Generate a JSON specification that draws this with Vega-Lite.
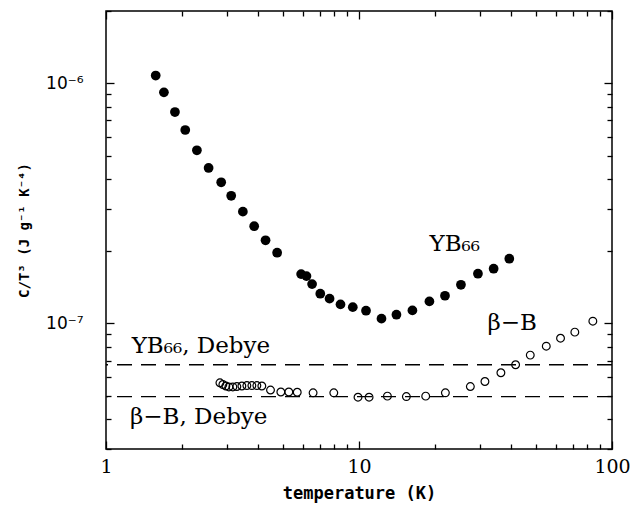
{
  "$schema": "https://vega.github.io/schema/vega-lite/v6.json",
  "width": 506,
  "height": 438,
  "autosize": "none",
  "padding": {"left": 106, "top": 11, "right": 19, "bottom": 61},
  "background": "white",
  "config": {
    "view": {"stroke": "black", "strokeWidth": 1.5},
    "axis": {
      "domain": false,
      "grid": false,
      "tickColor": "black",
      "tickWidth": 1.3,
      "labelColor": "black",
      "titleColor": "black",
      "labelFont": "DejaVu Serif",
      "titleFont": "DejaVu Sans Mono"
    },
    "text": {"font": "DejaVu Serif"}
  },
  "datasets": {
    "yb66": [
      {"T": 1.572, "CT3": 1.077e-6}, {"T": 1.694, "CT3": 9.17e-7}, {"T": 1.873, "CT3": 7.59e-7},
      {"T": 2.057, "CT3": 6.39e-7}, {"T": 2.287, "CT3": 5.26e-7}, {"T": 2.544, "CT3": 4.44e-7},
      {"T": 2.853, "CT3": 3.87e-7}, {"T": 3.125, "CT3": 3.40e-7}, {"T": 3.475, "CT3": 2.92e-7},
      {"T": 3.852, "CT3": 2.54e-7}, {"T": 4.272, "CT3": 2.22e-7}, {"T": 4.747, "CT3": 1.97e-7},
      {"T": 5.905, "CT3": 1.605e-7}, {"T": 6.20, "CT3": 1.574e-7}, {"T": 6.525, "CT3": 1.458e-7},
      {"T": 7.03, "CT3": 1.33e-7}, {"T": 7.65, "CT3": 1.268e-7}, {"T": 8.45, "CT3": 1.20e-7},
      {"T": 9.45, "CT3": 1.169e-7}, {"T": 10.66, "CT3": 1.13e-7}, {"T": 12.27, "CT3": 1.047e-7},
      {"T": 14.06, "CT3": 1.087e-7}, {"T": 16.26, "CT3": 1.133e-7}, {"T": 18.98, "CT3": 1.235e-7},
      {"T": 21.87, "CT3": 1.304e-7}, {"T": 25.29, "CT3": 1.449e-7}, {"T": 29.52, "CT3": 1.611e-7},
      {"T": 34.05, "CT3": 1.69e-7}, {"T": 39.27, "CT3": 1.86e-7}
    ],
    "betaB": [
      {"T": 2.82, "CT3": 5.66e-8}, {"T": 2.897, "CT3": 5.57e-8}, {"T": 2.977, "CT3": 5.49e-8},
      {"T": 3.06, "CT3": 5.44e-8}, {"T": 3.172, "CT3": 5.44e-8}, {"T": 3.29, "CT3": 5.46e-8},
      {"T": 3.444, "CT3": 5.49e-8}, {"T": 3.604, "CT3": 5.51e-8}, {"T": 3.772, "CT3": 5.51e-8},
      {"T": 3.947, "CT3": 5.51e-8}, {"T": 4.13, "CT3": 5.49e-8}, {"T": 4.469, "CT3": 5.28e-8},
      {"T": 4.91, "CT3": 5.18e-8}, {"T": 5.28, "CT3": 5.18e-8}, {"T": 5.70, "CT3": 5.17e-8},
      {"T": 6.585, "CT3": 5.14e-8}, {"T": 7.95, "CT3": 5.14e-8}, {"T": 9.91, "CT3": 4.93e-8},
      {"T": 10.96, "CT3": 4.93e-8}, {"T": 12.95, "CT3": 4.98e-8}, {"T": 15.39, "CT3": 4.96e-8},
      {"T": 18.35, "CT3": 4.98e-8}, {"T": 21.95, "CT3": 5.14e-8}, {"T": 27.55, "CT3": 5.46e-8},
      {"T": 31.46, "CT3": 5.73e-8}, {"T": 36.38, "CT3": 6.23e-8}, {"T": 41.59, "CT3": 6.73e-8},
      {"T": 47.53, "CT3": 7.38e-8}, {"T": 54.98, "CT3": 8.04e-8}, {"T": 62.60, "CT3": 8.68e-8},
      {"T": 71.30, "CT3": 9.20e-8}, {"T": 84.0, "CT3": 1.022e-7}
    ],
    "debye": [
      {"material": "YB66", "CT3": 6.73e-8},
      {"material": "beta-B", "CT3": 4.96e-8}
    ],
    "labels": [
      {"text": "YB₆₆", "T": 19.0, "CT3": 2.0e-7},
      {"text": "β−B", "T": 32.2, "CT3": 9.35e-8},
      {"text": "YB₆₆,  Debye", "T": 1.263, "CT3": 7.5e-8},
      {"text": "β−B,  Debye", "T": 1.244, "CT3": 3.83e-8}
    ]
  },
  "resolve": {"axis": {"x": "independent", "y": "independent"}},
  "layer": [
    {
      "data": {"name": "yb66"},
      "mark": {"type": "point", "filled": true, "color": "black", "size": 95, "opacity": 1},
      "encoding": {
        "x": {
          "field": "T", "type": "quantitative",
          "scale": {"type": "log", "domain": [1, 100], "nice": false},
          "axis": {
            "orient": "bottom",
            "values": [1,2,3,4,5,6,7,8,9,10,20,30,40,50,60,70,80,90,100],
            "tickSize": {"condition": {"test": "datum.value == 1 || datum.value == 10 || datum.value == 100", "value": -8}, "value": -5},
            "labelExpr": "datum.value == 1 ? '1' : datum.value == 10 ? '10' : datum.value == 100 ? '100' : ''",
            "labelFontSize": 19,
            "labelPadding": 16,
            "labelFlush": false,
            "labelOverlap": false,
            "title": "temperature (K)",
            "titleFontSize": 17,
            "titleFontWeight": "bold",
            "titlePadding": 6
          }
        },
        "y": {
          "field": "CT3", "type": "quantitative",
          "scale": {"type": "log", "domain": [3e-8, 2e-6], "nice": false},
          "axis": {
            "orient": "left",
            "values": [3e-8,4e-8,5e-8,6e-8,7e-8,8e-8,9e-8,1e-7,2e-7,3e-7,4e-7,5e-7,6e-7,7e-7,8e-7,9e-7,1e-6,2e-6],
            "tickSize": {"condition": {"test": "datum.value == 1e-7 || datum.value == 1e-6", "value": -8}, "value": -5},
            "labelExpr": "datum.value == 1e-6 ? '10⁻⁶' : datum.value == 1e-7 ? '10⁻⁷' : ''",
            "labelFont": "DejaVu Sans",
            "labelFontSize": 17,
            "labelPadding": 31,
            "labelFlush": false,
            "labelOverlap": false,
            "title": "C/T³ (J g⁻¹ K⁻⁴)",
            "titleFontSize": 14,
            "titleFontWeight": "bold",
            "titlePadding": 14
          }
        }
      }
    },
    {
      "data": {"name": "betaB"},
      "mark": {"type": "point", "filled": false, "color": "black", "size": 60, "strokeWidth": 1.2, "opacity": 1},
      "encoding": {
        "x": {
          "field": "T", "type": "quantitative",
          "scale": {"type": "log", "domain": [1, 100], "nice": false},
          "axis": {
            "orient": "top",
            "values": [1,2,3,4,5,6,7,8,9,10,20,30,40,50,60,70,80,90,100],
            "tickSize": {"condition": {"test": "datum.value == 1 || datum.value == 10 || datum.value == 100", "value": -8}, "value": -5},
            "labels": false,
            "title": null
          }
        },
        "y": {
          "field": "CT3", "type": "quantitative",
          "scale": {"type": "log", "domain": [3e-8, 2e-6], "nice": false},
          "axis": {
            "orient": "right",
            "values": [3e-8,4e-8,5e-8,6e-8,7e-8,8e-8,9e-8,1e-7,2e-7,3e-7,4e-7,5e-7,6e-7,7e-7,8e-7,9e-7,1e-6,2e-6],
            "tickSize": {"condition": {"test": "datum.value == 1e-7 || datum.value == 1e-6", "value": -8}, "value": -5},
            "labels": false,
            "title": null
          }
        }
      }
    },
    {
      "data": {"name": "debye"},
      "mark": {"type": "rule", "color": "black", "strokeWidth": 1.3, "strokeDash": [15, 9]},
      "encoding": {
        "y": {
          "field": "CT3", "type": "quantitative",
          "scale": {"type": "log", "domain": [3e-8, 2e-6], "nice": false},
          "axis": null
        }
      }
    },
    {
      "data": {"name": "labels"},
      "mark": {"type": "text", "align": "left", "baseline": "alphabetic", "fontSize": 23, "color": "black"},
      "encoding": {
        "x": {
          "field": "T", "type": "quantitative",
          "scale": {"type": "log", "domain": [1, 100], "nice": false},
          "axis": null
        },
        "y": {
          "field": "CT3", "type": "quantitative",
          "scale": {"type": "log", "domain": [3e-8, 2e-6], "nice": false},
          "axis": null
        },
        "text": {"field": "text"}
      }
    }
  ]
}
